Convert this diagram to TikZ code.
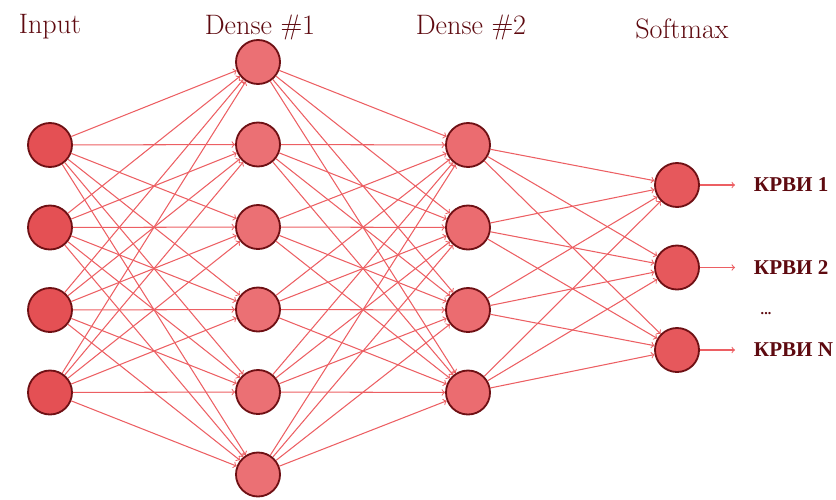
\documentclass[tikz,border=0pt]{standalone}
\usepackage{fontspec}
\newfontfamily\cyrfont{Liberation Serif}
\usepackage{tikz}
\usetikzlibrary{arrows}

\definecolor{titlered}{HTML}{5E0A10}
\definecolor{edgered}{HTML}{EC5F63}
\definecolor{rimred}{HTML}{6E1014}

\begin{document}
\begin{tikzpicture}[x=0.025cm,y=-0.025cm,->,>=to,
        main node/.style={circle,draw=rimred,line width=1.3pt,minimum size=1.1cm,inner sep=0pt},
        title/.style={font=\fontsize{20}{24}\selectfont,text=titlered},
        out label/.style={font=\cyrfont\bfseries\fontsize{15}{17}\selectfont,text=titlered,anchor=west},
        every edge/.style={draw=edgered,line width=0.75pt}]
        \useasboundingbox (0,0) rectangle (836,500);

        % layers
        \foreach \i in {1,...,4}
            \node[main node,fill={rgb,255:red,228;green,80;blue,84}] (I\i) at (50,{145+82.5*(\i-1)}) {};
        \foreach \i in {1,...,6}
            \node[main node,fill={rgb,255:red,235;green,112;blue,116}] (A\i) at (258,{62+82.5*(\i-1)}) {};
        \foreach \i in {1,...,4}
            \node[main node,fill={rgb,255:red,235;green,108;blue,112}] (B\i) at (468,{145+82.5*(\i-1)}) {};
        \foreach \i in {1,...,3}
            \node[main node,fill={rgb,255:red,230;green,88;blue,92}] (S\i) at (677,{185+82.5*(\i-1)}) {};

        \node[title] (t1) at (50,27) {Input};
        \node[title] (t2) at (260,27) {Dense \#1};
        \node[title] (t3) at (471,27) {Dense \#2};
        \node[title] (t4) at (682,29) {Softmax};

        % connections
        \foreach \i in {1,...,4}
            \foreach \j in {1,...,6}
                \path (I\i) edge (A\j);
        \foreach \i in {1,...,6}
            \foreach \j in {1,...,4}
                \path (A\i) edge (B\j);
        \foreach \i in {1,...,4}
            \foreach \j in {1,...,3}
                \path (B\i) edge (S\j);

        % outputs
        \foreach \i/\t in {1/1,2/2,3/N} {
            \coordinate (o\i) at (735,{185+82.5*(\i-1)});
            \path (S\i) edge (o\i);
            \node[out label] (k\i) at (749,{185+82.5*(\i-1)}) {КРВИ \t};
        }
        \node[font=\cyrfont\bfseries,text=titlered] (dots) at (766,314) {...};
    \end{tikzpicture}
\end{document}
